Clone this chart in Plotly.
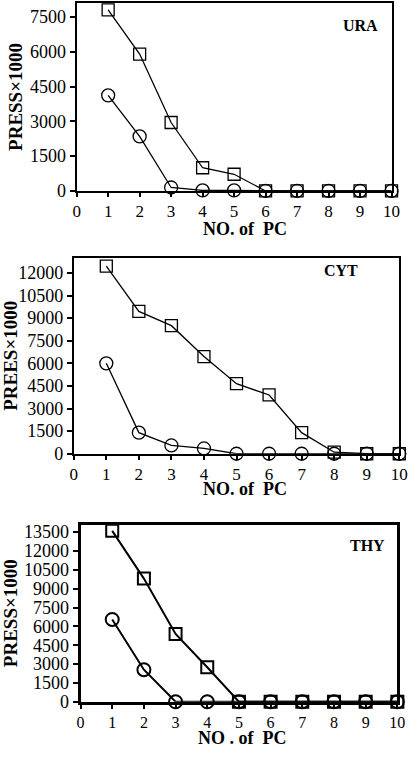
import plotly.graph_objects as go

pcs = list(range(1, 11))

ura_sq = [7800, 5900, 2950, 1000, 720, 0, 0, 0, 0, 0]
ura_ci = [4120, 2350, 150, 25, 25, 0, 0, 0, 0, 0]
cyt_sq = [12450, 9450, 8500, 6450, 4650, 3900, 1400, 100, 0, 0]
cyt_ci = [6000, 1400, 550, 350, 0, 0, 0, 0, 0, 0]
thy_sq = [13600, 9800, 5400, 2750, 0, 0, 0, 0, 0, 0]
thy_ci = [6550, 2550, 0, 0, 0, 0, 0, 0, 0, 0]

names = ["URA", "CYT", "THY"]
ytitles = ["PRESS×1000", "PREES×1000", "PRESS×1000"]
xtitles = ["NO. of  PC", "NO. of  PC", "NO . of  PC"]
ymax = [8100, 13000, 14100]

W, H = 417, 758
# plot boxes in pixels: left, right, top, bottom
boxes = [(75, 400, 1, 192), (72, 408, 260, 459), (79, 406, 531, 711)]
# x-title centres in pixels
xtitle_pos = [(249, 231), (249, 495), (246, 748)]
# panel label anchor (right edge, middle) in axis-domain fractions
label_pos = [(0.963, 0.88), (0.878, 0.935), (0.966, 0.883)]
xtick_size = [17, 17, 16]
lw = [1.3, 1.3, 2]
fw = [2, 2, 3]

font = "Liberation Serif, Times New Roman, serif"
fig = go.Figure()
series = [(ura_sq, ura_ci), (cyt_sq, cyt_ci), (thy_sq, thy_ci)]

for i, (sq, ci) in enumerate(series):
    n = "" if i == 0 else str(i + 1)
    for vals, sym, size in [(ci, "circle-open", 13), (sq, "square-open", 12)]:
        fig.add_trace(go.Scatter(
            x=pcs, y=vals, mode="lines+markers", xaxis="x" + n, yaxis="y" + n,
            line=dict(color="black", width=lw[i]),
            marker=dict(symbol=sym, size=size, color="black",
                        line=dict(color="black", width=lw[i])),
            cliponaxis=False, showlegend=False))
    l, r, t, b = boxes[i]
    fig.update_layout(**{
        "xaxis" + n: dict(
            domain=[l / W, r / W], anchor="y" + n, range=[0, 10],
            tickmode="linear", tick0=0, dtick=1,
            showline=True, mirror=True, linecolor="black", linewidth=fw[i],
            ticks="outside", ticklen=4, tickwidth=1.5, tickcolor="black",
            showgrid=False, zeroline=False,
            tickfont=dict(family=font, size=xtick_size[i], color="black")),
        "yaxis" + n: dict(
            domain=[1 - b / H, 1 - t / H], anchor="x" + n, range=[0, ymax[i]],
            tickmode="linear", tick0=0, dtick=1500, tickformat="d",
            showline=True, mirror=True, linecolor="black", linewidth=fw[i],
            ticks="outside", ticklen=5, tickwidth=1.5, tickcolor="black",
            showgrid=False, zeroline=False,
            tickfont=dict(family=font, size=18, color="black"),
            title=dict(text="<b>" + ytitles[i] + "</b>", standoff=2,
                       font=dict(family=font, size=19, color="black"))),
    })
    lx, ly = label_pos[i]
    fig.add_annotation(text="<b>" + names[i] + "</b>", xref="x" + n + " domain",
                       yref="y" + n + " domain", x=lx, y=ly,
                       xanchor="right", yanchor="middle", showarrow=False,
                       font=dict(family=font, size=16, color="black"))
    tx, ty = xtitle_pos[i]
    fig.add_annotation(text="<b>" + xtitles[i] + "</b>", xref="paper", yref="paper",
                       x=tx / W, y=1 - ty / H, xanchor="center", yanchor="middle",
                       showarrow=False, borderpad=0,
                       font=dict(family=font, size=18, color="black"))

fig.update_layout(width=W, height=H, margin=dict(l=0, r=0, t=0, b=0),
                  plot_bgcolor="white", paper_bgcolor="white")
page_fix = "document.body.style.margin='0';document.body.style.overflow='hidden';"
fig.write_html("out.html", config={"displayModeBar": False}, post_script=page_fix)
